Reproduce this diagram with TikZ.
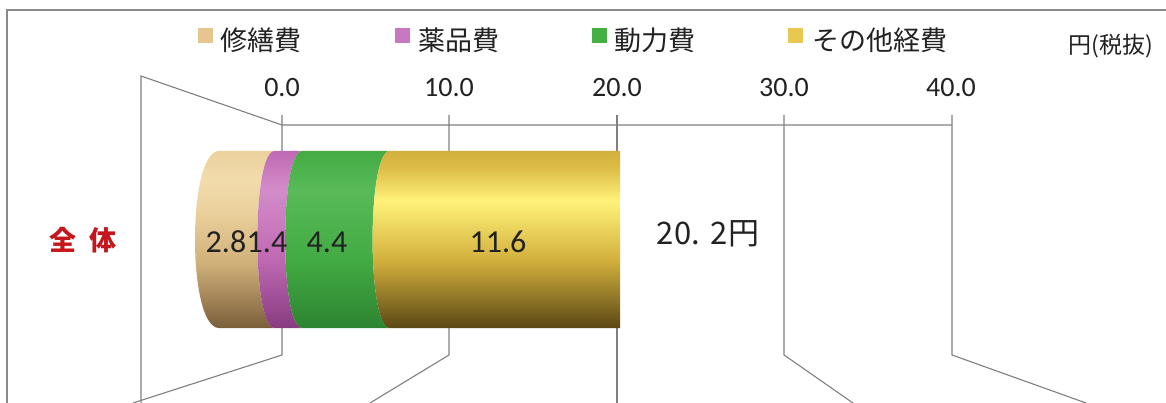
\documentclass[tikz,border=0pt]{standalone}
\usepackage{fontspec}
\newfontfamily\jp{Noto Sans CJK JP}
\newfontfamily\num{Carlito}
\definecolor{gridc}{HTML}{808080}
\definecolor{frame}{HTML}{8A8A8A}
\definecolor{txt}{HTML}{222222}
\definecolor{redt}{HTML}{C4161C}
\definecolor{tanL}{HTML}{EBD19C}
\definecolor{tanT}{HTML}{F2DCAC}
\definecolor{tanM}{HTML}{CFAF78}
\definecolor{tanD}{HTML}{7A5E3A}
\definecolor{pinkT}{HTML}{D38CC9}
\definecolor{pinkM}{HTML}{C06AB4}
\definecolor{pinkD}{HTML}{883C80}
\definecolor{grnT}{HTML}{58BA58}
\definecolor{grnM}{HTML}{44AC44}
\definecolor{grnD}{HTML}{2C8430}
\definecolor{yelT}{HTML}{DDBE48}
\definecolor{yelL}{HTML}{FFF27A}
\definecolor{yelM}{HTML}{D2AF3C}
\definecolor{yelD}{HTML}{5A4816}
\definecolor{legtan}{HTML}{E6C68E}
\definecolor{legpink}{HTML}{C878C0}
\definecolor{leggrn}{HTML}{44B044}
\definecolor{legyel}{HTML}{E8C850}
\pgfdeclareverticalshading{tanshade}{100bp}{color(0bp)=(tanD); color(25bp)=(tanD); color(43bp)=(tanM); color(58bp)=(tanL); color(67bp)=(tanT); color(75bp)=(tanL); color(100bp)=(tanL)}
\pgfdeclareverticalshading{pinkshade}{100bp}{color(0bp)=(pinkD); color(25bp)=(pinkD); color(45bp)=(pinkM); color(64bp)=(pinkT); color(75bp)=(pinkM); color(100bp)=(pinkM)}
\pgfdeclareverticalshading{grnshade}{100bp}{color(0bp)=(grnD); color(25bp)=(grnD); color(45bp)=(grnM); color(64bp)=(grnT); color(75bp)=(grnM); color(100bp)=(grnM)}
\pgfdeclareverticalshading{yelshade}{100bp}{color(0bp)=(yelD); color(25bp)=(yelD); color(44bp)=(yelM); color(61bp)=(yelL); color(70bp)=(yelT); color(75bp)=(yelM); color(100bp)=(yelM)}
\tikzset{
  gline/.style={draw=gridc, line width=1.1pt},
  legtext/.style={font=\jp\fontsize{27}{30}\selectfont, text=txt, inner sep=0pt},
  legsq/.style={minimum size=15pt, inner sep=0pt},
  axlab/.style={font=\num\fontsize{28}{30}\selectfont, text=txt, inner sep=0pt},
  barlab/.style={font=\num\fontsize{32}{34}\selectfont, text=txt, inner sep=0pt},
}
\begin{document}
\begin{tikzpicture}[x=1pt,y=-1pt]
\useasboundingbox (0,0) rectangle (1166,403);
\fill[white] (0,0) rectangle (1166,403);
% frame
\draw[draw=frame, line width=1.4pt] (7,403) -- (7,10) -- (1166,10);
% legend
\node[legsq, fill=legtan] (s1) at (205.5,36) {};
\node[legtext] (l1) at (261,40) {修繕費};
\node[legsq, fill=legpink] (s2) at (402.5,36) {};
\node[legtext] (l2) at (459,40) {薬品費};
\node[legsq, fill=leggrn] (s3) at (599.5,36) {};
\node[legtext] (l3) at (655,40) {動力費};
\node[legsq, fill=legyel] (s4) at (795.5,36) {};
\node[legtext] (l4) at (880,40) {その他経費};
\node[font=\jp\fontsize{23}{26}\selectfont, text=txt, inner sep=0pt] (unit) at (1111,46) {円(税抜)};
% axis coordinates
\coordinate (b0) at (282,125);
\coordinate (b4) at (952,125);
\coordinate (lw) at (141,76);
\coordinate (lwb) at (141,403);
\foreach \x/\n in {282/0, 449/1, 617/2, 784/3, 952/4} {
  \coordinate (t\n) at (\x,115);
  \coordinate (f\n) at (\x,355);
}
\coordinate (e0) at (133,403);
\coordinate (e1) at (370,403);
\coordinate (e2) at (617,403);
\coordinate (e3) at (853,403);
\coordinate (e4) at (1086,403);
% axis labels
\node[axlab] (a0) at (282,88) {0.0};
\node[axlab] (a1) at (449,88) {10.0};
\node[axlab] (a2) at (617,88) {20.0};
\node[axlab] (a3) at (784,88) {30.0};
\node[axlab] (a4) at (951,88) {40.0};
% walls and grid
\draw[gline] (lwb) -- (lw) -- (b0) -- (b4);
\draw[gline] (t0) -- (f0) -- (e0);
\draw[gline] (t1) -- (f1) -- (e1);
\draw[gline] (t2) -- (e2);
\draw[gline] (t3) -- (f3) -- (e3);
\draw[gline] (t4) -- (f4) -- (e4);
% bar (cylinder)
\def\ya{151}\def\yb{328}
\shade[shading=tanshade] (219,\ya) .. controls (187,\ya) and (187,\yb) .. (219,\yb) -- (274.6,\yb) .. controls (251.6,\yb) and (251.6,\ya) .. (274.6,\ya) -- cycle;
\shade[shading=pinkshade] (274.6,\ya) .. controls (251.6,\ya) and (251.6,\yb) .. (274.6,\yb) -- (302.4,\yb) .. controls (279.4,\yb) and (279.4,\ya) .. (302.4,\ya) -- cycle;
\shade[shading=grnshade] (302.4,\ya) .. controls (279.4,\ya) and (279.4,\yb) .. (302.4,\yb) -- (389.8,\yb) .. controls (366.8,\yb) and (366.8,\ya) .. (389.8,\ya) -- cycle;
\shade[shading=yelshade] (389.8,\ya) .. controls (366.8,\ya) and (366.8,\yb) .. (389.8,\yb) -- (620,\yb) -- (620,\ya) -- cycle;
% bar labels
\node[barlab] (v1) at (226,242) {2.8};
\node[barlab] (v2) at (267,242) {1.4};
\node[barlab] (v3) at (327,242) {4.4};
\node[barlab] (v4) at (498,242) {11.6};
% category and total
\node[font=\jp\bfseries\fontsize{27}{30}\selectfont, text=redt, inner sep=0pt] (cat) at (83,240) {全\hspace{14pt}体};
\node[font=\jp\fontsize{31}{34}\selectfont, text=txt, inner sep=0pt] (tot) at (708,234) {20.\hspace{11pt}2円};
\end{tikzpicture}
\end{document}
